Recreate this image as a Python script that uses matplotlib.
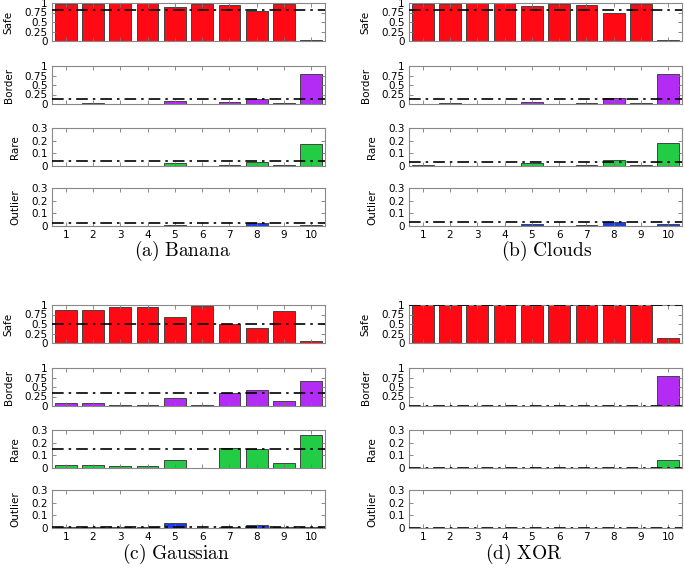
import numpy as np
import matplotlib.pyplot as plt

plt.rcParams['font.family'] = 'DejaVu Sans'
plt.rcParams['mathtext.fontset'] = 'cm'

x = np.arange(1, 11)
rows = ['Safe', 'Border', 'Rare', 'Outlier']
colors = {'Safe': '#ff0a14', 'Border': '#b22cf5', 'Rare': '#22cc44', 'Outlier': '#1a3de8'}

banana_safe = [0.98, 0.97, 1.0, 1.0, 0.89, 0.98, 0.95, 0.80, 0.97, 0.02]
banana_border = [0.004, 0.03, 0.0, 0.0, 0.08, 0.01, 0.04, 0.12, 0.03, 0.80]
banana_rare = [0.002, 0.001, 0.0, 0.0, 0.02, 0.001, 0.01, 0.035, 0.008, 0.17]
banana_outlier = [0.0, 0.0, 0.0, 0.0, 0.01, 0.0, 0.002, 0.02, 0.002, 0.01]
banana_avg = [0.82, 0.12, 0.04, 0.02]

clouds_safe = [0.98, 0.97, 1.0, 1.0, 0.91, 0.98, 0.95, 0.75, 0.97, 0.03]
clouds_border = [0.005, 0.03, 0.0, 0.0, 0.06, 0.01, 0.03, 0.16, 0.03, 0.78]
clouds_rare = [0.008, 0.002, 0.0, 0.0, 0.02, 0.002, 0.01, 0.05, 0.008, 0.18]
clouds_outlier = [0.0, 0.0, 0.0, 0.0, 0.015, 0.0, 0.005, 0.035, 0.002, 0.012]
clouds_avg = [0.82, 0.13, 0.03, 0.03]

gauss_safe = [0.88, 0.87, 0.95, 0.95, 0.68, 0.98, 0.51, 0.40, 0.84, 0.06]
gauss_border = [0.09, 0.09, 0.02, 0.02, 0.22, 0.02, 0.33, 0.43, 0.12, 0.67]
gauss_rare = [0.025, 0.02, 0.015, 0.015, 0.06, 0.003, 0.155, 0.15, 0.038, 0.26]
gauss_outlier = [0.005, 0.005, 0.005, 0.005, 0.04, 0.003, 0.005, 0.022, 0.005, 0.01]
gauss_avg = [0.50, 0.35, 0.15, 0.005]

xor_safe = [1.0, 1.0, 1.0, 1.0, 1.0, 1.0, 1.0, 1.0, 1.0, 0.13]
xor_border = [0.0, 0.0, 0.0, 0.0, 0.0, 0.0, 0.0, 0.0, 0.0, 0.80]
xor_rare = [0.0, 0.0, 0.0, 0.0, 0.0, 0.0, 0.0, 0.0, 0.0, 0.06]
xor_outlier = [0.0] * 10
xor_avg = [1.0, 0.0, 0.0, 0.0]

panels = [
    ('(a)\\ Banana', [banana_safe, banana_border, banana_rare, banana_outlier], banana_avg, 52, 3, 182),
    ('(b)\\ Clouds', [clouds_safe, clouds_border, clouds_rare, clouds_outlier], clouds_avg, 409, 3, 547),
    ('(c)\\ Gaussian', [gauss_safe, gauss_border, gauss_rare, gauss_outlier], gauss_avg, 52, 305, 176),
    ('(d)\\ XOR', [xor_safe, xor_border, xor_rare, xor_outlier], xor_avg, 409, 305, 524),
]

W, H = 685, 568
fig = plt.figure(figsize=(W / 100, H / 100), dpi=100)

offsets = [0, 63, 125, 185]
for title, series, avg, left, top, cx in panels:
    for i, name in enumerate(rows):
        t = top + offsets[i]
        ax = fig.add_axes([left / W, 1 - (t + 38) / H, 273 / W, 38 / H])
        ax.bar(x, series[i], width=0.8, color=colors[name], edgecolor='#444444', linewidth=0.7)
        ax.axhline(avg[i], color='black', lw=1.2, ls=(0, (7, 3, 1.5, 3)), zorder=5)
        ax.set_xlim(0.5, 10.5)
        if i < 2:
            ax.set_ylim(0, 1)
            ax.set_yticks([0, 0.25, 0.5, 0.75, 1])
            ax.set_yticklabels(['0', '0.25', '0.5', '0.75', '1'])
        else:
            ax.set_ylim(0, 0.3)
            ax.set_yticks([0, 0.1, 0.2, 0.3])
            ax.set_yticklabels(['0', '0.1', '0.2', '0.3'])
        ax.set_xticks(x)
        if i == 3:
            ax.set_xticklabels([str(v) for v in x])
        else:
            ax.set_xticklabels([])
        ax.tick_params(direction='in', length=3, width=0.6, color='#777777',
                       labelsize=7.5, top=True, right=True, pad=3)
        ax.tick_params(axis='x', pad=3)
        for s in ax.spines.values():
            s.set_color('#888888')
            s.set_linewidth(0.8)
        ax.set_ylabel(name, fontsize=7.5, labelpad=8)
    cap_y = 251 if top < 100 else 554
    fig.text(cx / W, 1 - cap_y / H, '$\\mathrm{' + title + '}$',
             fontsize=14, ha='center', va='center')

fig.savefig('out.png', dpi=100)
